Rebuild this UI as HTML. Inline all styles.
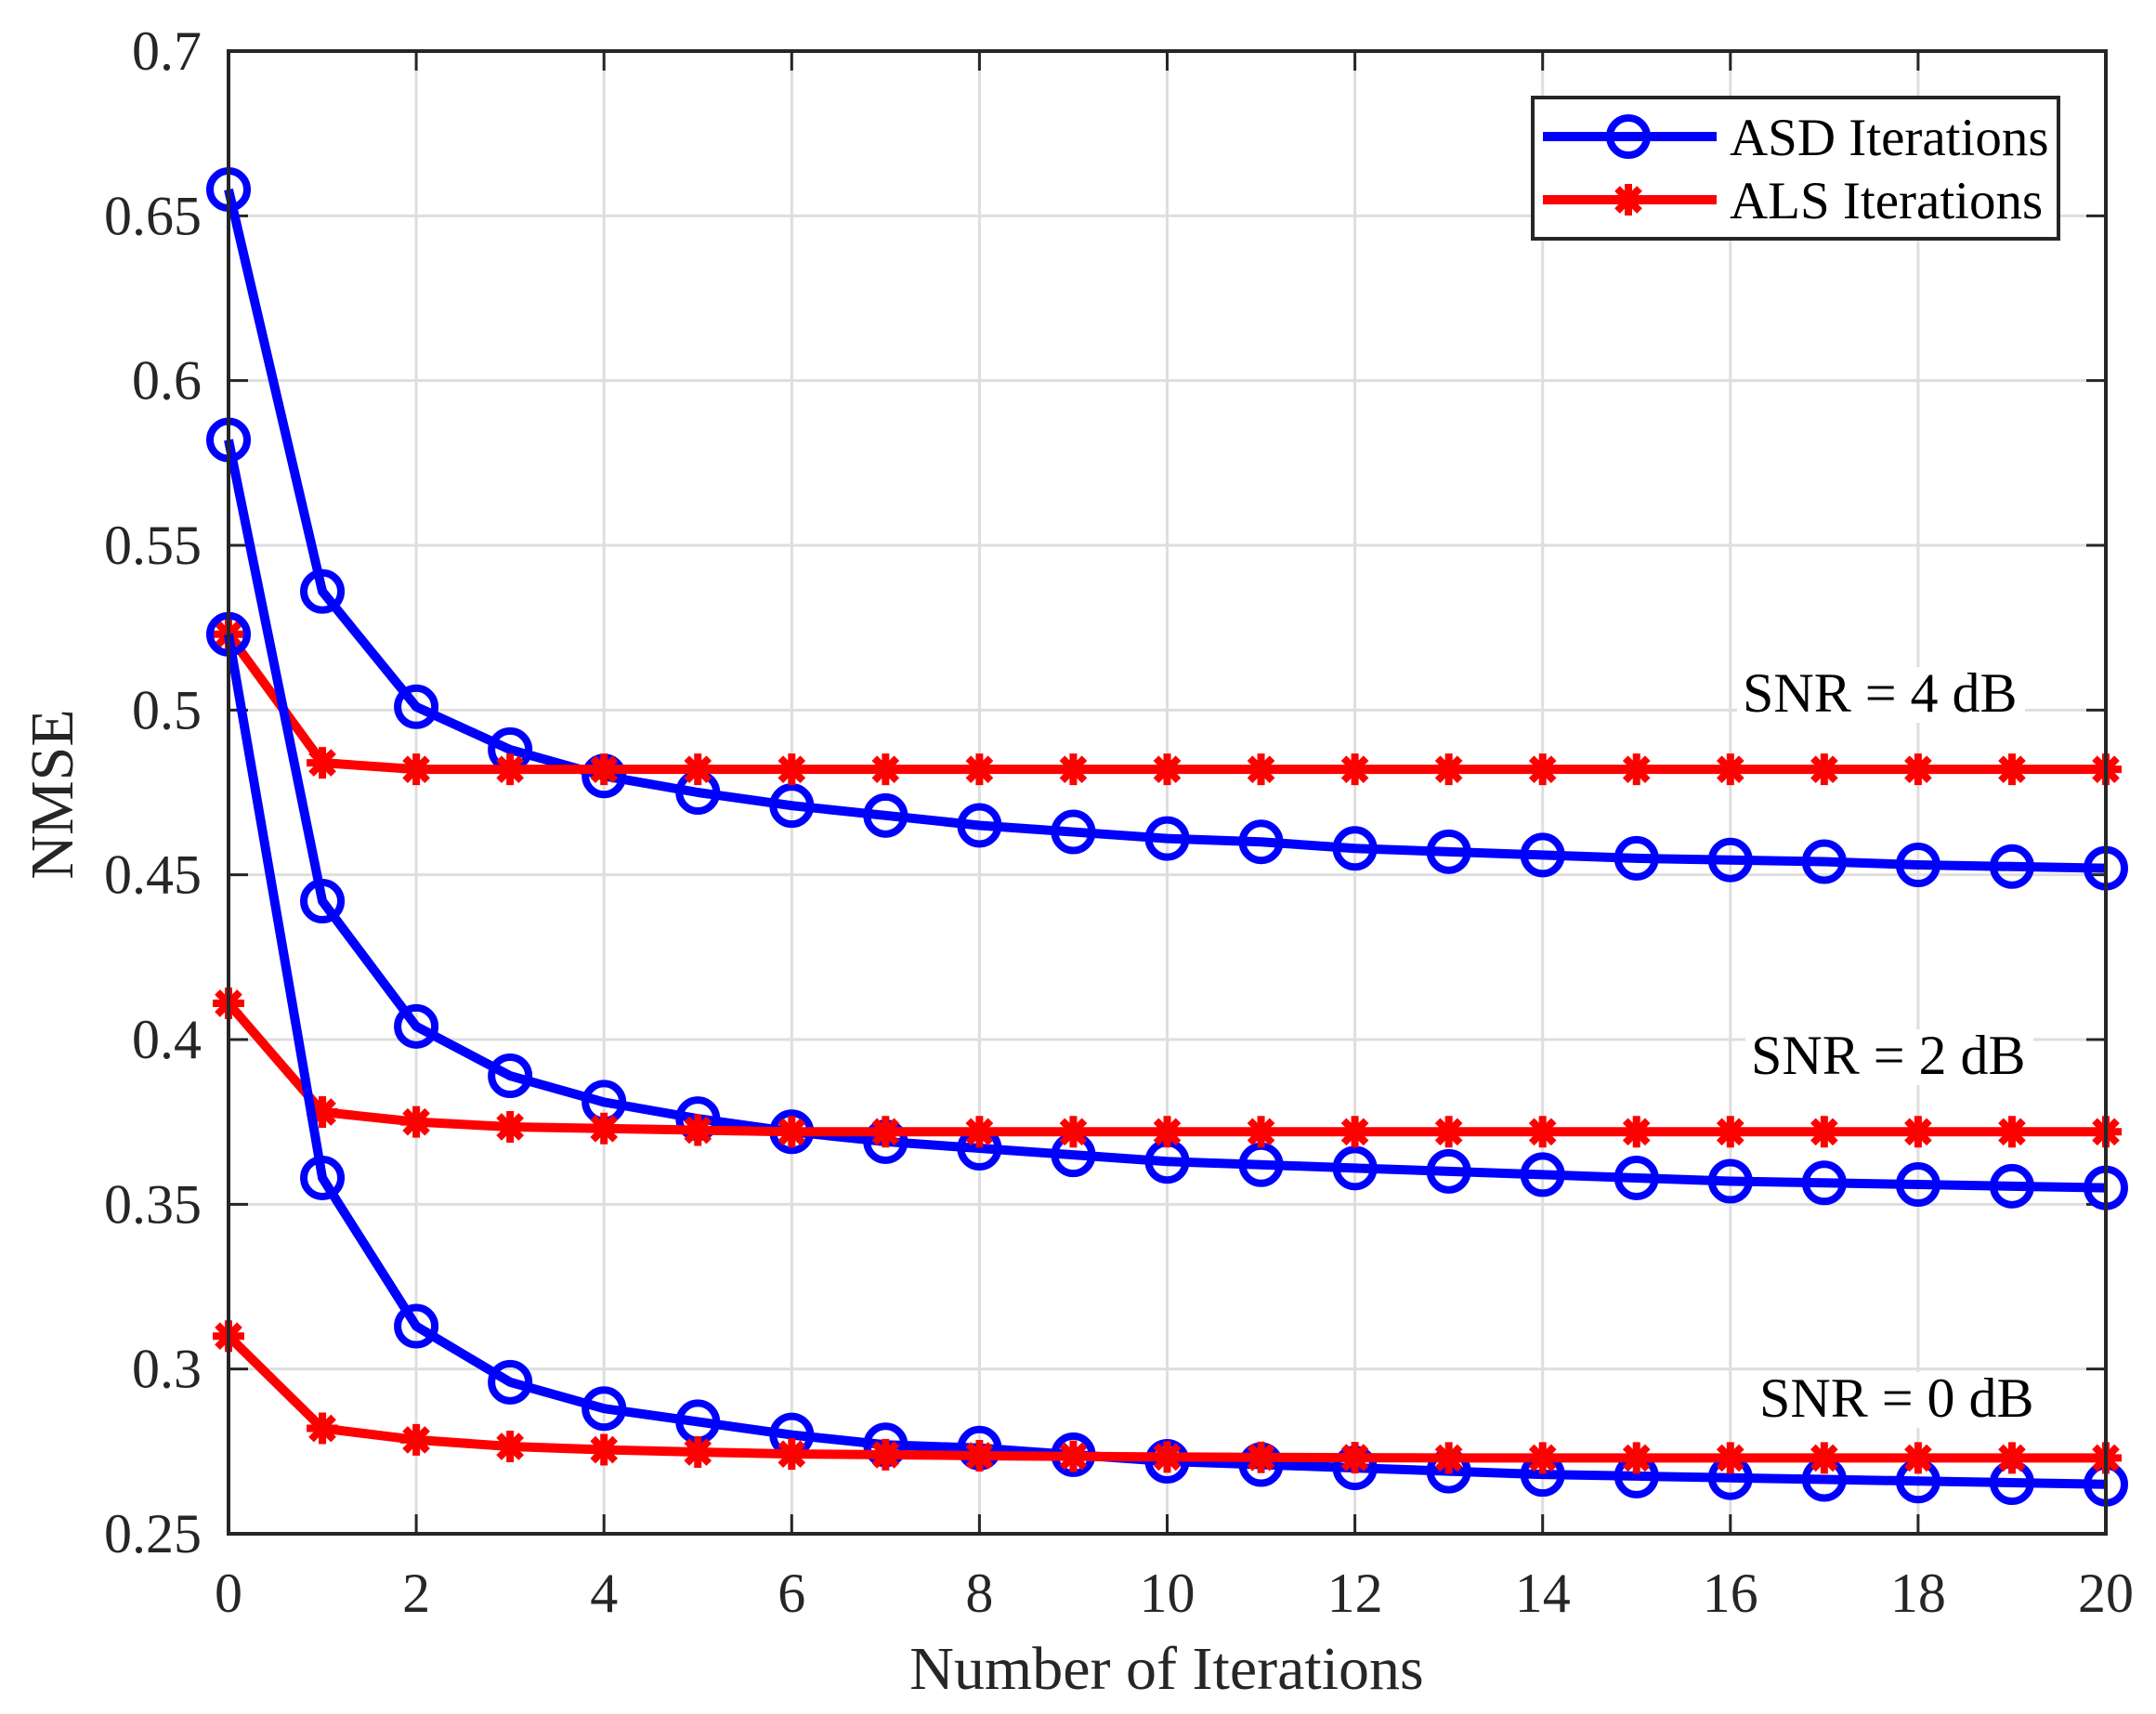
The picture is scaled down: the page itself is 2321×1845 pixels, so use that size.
<!DOCTYPE html>
<html><head><meta charset="utf-8"><style>
html,body{margin:0;padding:0;background:#fff;}
svg{display:block;}
text{font-family:"Liberation Serif",serif;fill:#262626;}
</style></head><body>
<svg id="s" width="2321" height="1845" viewBox="0 0 2321 1845" xmlns="http://www.w3.org/2000/svg"></svg>
<script>
const L=246,R=2267,T=55,B=1651;
const X=i=>L+(R-L)*i/20, Y=v=>B-(v-0.25)/0.45*(B-T);
let s='';
for(let i=0;i<=20;i+=2){s+=`<line x1="${X(i)}" y1="${T}" x2="${X(i)}" y2="${B}" stroke="#dedede" stroke-width="3"/>`;}
for(let k=0;k<=9;k++){const v=0.25+k*0.05;s+=`<line x1="${L}" y1="${Y(v)}" x2="${R}" y2="${Y(v)}" stroke="#dedede" stroke-width="3"/>`;}
for(let i=0;i<=20;i+=2){s+=`<line x1="${X(i)}" y1="${B}" x2="${X(i)}" y2="${B-21}" stroke="#262626" stroke-width="3"/><line x1="${X(i)}" y1="${T}" x2="${X(i)}" y2="${T+21}" stroke="#262626" stroke-width="3"/>`;
 s+=`<text x="${X(i)}" y="1735" font-size="60" text-anchor="middle">${i}</text>`;}
const yl=['0.25','0.3','0.35','0.4','0.45','0.5','0.55','0.6','0.65','0.7'];
for(let k=0;k<=9;k++){const y=Y(0.25+k*0.05);s+=`<line x1="${L}" y1="${y}" x2="${L+21}" y2="${y}" stroke="#262626" stroke-width="3"/><line x1="${R}" y1="${y}" x2="${R-21}" y2="${y}" stroke="#262626" stroke-width="3"/>`;
 s+=`<text x="217" y="${y+20}" font-size="60" text-anchor="end">${yl[k]}</text>`;}
const lab=[['SNR = 4 dB',1876,766],['SNR = 2 dB',1885,1156],['SNR = 0 dB',1894,1525]];
for(const [t,x,y] of lab){s+=`<rect x="${x-6}" y="${y-48}" width="310" height="60" fill="#fff"/><text x="${x}" y="${y}" font-size="60" style="fill:#000">${t}</text>`;}
const asd=[[0.658,0.536,0.501,0.488,0.480,0.475,0.471,0.468,0.465,0.463,0.461,0.460,0.458,0.457,0.456,0.455,0.4545,0.454,0.453,0.4525,0.452],
[0.582,0.442,0.404,0.389,0.381,0.376,0.372,0.369,0.367,0.365,0.363,0.362,0.361,0.360,0.359,0.358,0.357,0.3565,0.356,0.3555,0.355],
[0.523,0.358,0.313,0.296,0.288,0.284,0.280,0.277,0.276,0.274,0.272,0.271,0.270,0.269,0.268,0.2675,0.267,0.2665,0.266,0.2655,0.265]];
const als=[[0.523,0.484,0.482,0.482,0.482,0.482,0.482,0.482,0.482,0.482,0.482,0.482,0.482,0.482,0.482,0.482,0.482,0.482,0.482,0.482,0.482],
[0.411,0.378,0.375,0.3735,0.373,0.3725,0.372,0.372,0.372,0.372,0.372,0.372,0.372,0.372,0.372,0.372,0.372,0.372,0.372,0.372,0.372],
[0.310,0.282,0.2785,0.2765,0.2755,0.2748,0.2742,0.274,0.2737,0.2735,0.2733,0.2732,0.2731,0.273,0.273,0.273,0.273,0.273,0.273,0.273,0.273]];
function star(x,y){let o='';for(const a of [0,45,90,135]){const r=a*Math.PI/180,dx=17*Math.cos(r),dy=17*Math.sin(r);o+=`<line x1="${x-dx}" y1="${y-dy}" x2="${x+dx}" y2="${y+dy}" stroke="#f00" stroke-width="8"/>`;}return o+`<circle cx="${x}" cy="${y}" r="9" fill="#f00"/>`;}
function circ(x,y){return `<circle cx="${x}" cy="${y}" r="20" fill="none" stroke="#00f" stroke-width="8"/>`;}
for(let k=0;k<3;k++){
 s+=`<polyline fill="none" stroke="#00f" stroke-width="10" stroke-linejoin="round" points="${asd[k].map((v,i)=>X(i)+','+Y(v)).join(' ')}"/>`;
 asd[k].forEach((v,i)=>s+=circ(X(i),Y(v)));
 s+=`<polyline fill="none" stroke="#f00" stroke-width="10" stroke-linejoin="round" points="${als[k].map((v,i)=>X(i)+','+Y(v)).join(' ')}"/>`;
 als[k].forEach((v,i)=>s+=star(X(i),Y(v)));
}
s+=`<rect x="${L}" y="${T}" width="${R-L}" height="${B-T}" fill="none" stroke="#262626" stroke-width="4"/>`;
s+=`<rect x="1650" y="105" width="566" height="152" fill="#fff" stroke="#262626" stroke-width="4"/>`;
s+=`<line x1="1661" y1="147" x2="1848" y2="147" stroke="#00f" stroke-width="10"/>`+circ(1753,147);
s+=`<line x1="1661" y1="215" x2="1848" y2="215" stroke="#f00" stroke-width="10"/>`+star(1753,215);
s+=`<text x="1862" y="167" font-size="57" style="fill:#000">ASD Iterations</text>`;
s+=`<text x="1862" y="235" font-size="57" style="fill:#000">ALS Iterations</text>`;
s+=`<text x="1256" y="1818" font-size="66" text-anchor="middle">Number of Iterations</text>`;
s+=`<text transform="translate(78,855) rotate(-90)" font-size="66" text-anchor="middle">NMSE</text>`;
document.getElementById('s').innerHTML=s;
</script>
</body></html>
